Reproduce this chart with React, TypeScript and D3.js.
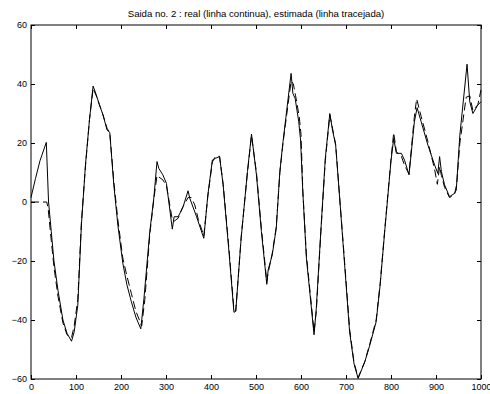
import React, { useEffect, useRef } from "react";
import * as d3 from "d3";

// amostras (eixo x) e valores
const realX = [0, 10, 20, 34, 39, 45, 51, 60, 71, 80, 90, 96, 104, 112, 121, 130, 138, 145, 152, 160, 169, 175, 184, 193, 204, 213, 223, 233, 244, 251, 264, 273, 280, 284, 293, 301, 314, 318, 327, 338, 349, 353, 368, 384, 393, 403, 410, 419, 427, 440, 451, 455, 467, 481, 490, 501, 512, 524, 527, 536, 545, 553, 560, 578, 582, 587, 595, 599, 604, 612, 629, 634, 644, 654, 664, 670, 677, 686, 697, 708, 718, 727, 742, 753, 767, 776, 786, 800, 806, 812, 823, 830, 840, 852, 858, 867, 882, 897, 904, 908, 912, 919, 930, 941, 945, 953, 969, 975, 982, 993, 1000];
const realY = [1.5, 8, 14, 20.2, 0, -10, -20, -30, -40, -44.5, -47.2, -44, -35, -7.8, 12.5, 28, 39.3, 36.3, 33, 29.5, 24.4, 23.6, 5.8, -7.8, -20.7, -28, -33.8, -39, -43, -32.7, -10, 1.4, 13.7, 11.4, 9.2, 6.3, -9.2, -5, -5, -1.6, 3.8, 1.2, -5, -12.3, 2.4, 14.2, 14.8, 15.4, 5.8, -17, -37.4, -37, -12.3, 10.3, 23, 9.2, -10, -27.9, -23, -18, -8.9, 10.3, 20.4, 43.6, 36.8, 35.1, 27.2, 21, 3.5, -19, -45, -36, -10, 14.8, 30, 24.4, 19.3, 1.2, -21.4, -44, -55, -59.8, -54.1, -48.5, -40.6, -28, -10, 14, 21.5, 16.5, 16.5, 14.2, 9.2, 27.2, 32, 27.2, 19.3, 12.5, 9.7, 15.4, 10.3, 5.8, 1.8, 2.9, 4, 22.7, 46.7, 34, 30, 32.9, 34];

const estX = [0, 35, 38, 45, 51, 60, 71, 80, 90, 96, 104, 112, 121, 130, 138, 145, 152, 160, 169, 175, 184, 193, 204, 213, 223, 233, 246, 253, 264, 273, 280, 284, 293, 301, 314, 318, 327, 338, 349, 356, 364, 372, 384, 393, 403, 410, 419, 427, 440, 451, 455, 467, 481, 490, 501, 512, 524, 527, 536, 545, 553, 560, 578, 583, 588, 596, 600, 604, 612, 629, 634, 644, 654, 664, 670, 677, 686, 697, 708, 718, 727, 742, 753, 767, 776, 786, 800, 806, 812, 823, 830, 840, 852, 857, 867, 882, 897, 903, 908, 912, 919, 930, 941, 946, 953, 967, 975, 982, 993, 1000];
const estY = [0, 0, -2, -13, -22, -32, -41, -45, -46, -42, -33, -7, 12, 28, 38.5, 36, 33, 29.5, 25, 23.5, 7, -6, -19, -25, -31, -37, -42, -33, -11, 1, 9, 8.5, 7.5, 5.5, -6, -6.5, -5.5, -1.5, 1.5, 1.5, -1, -6, -11.5, 2, 13.5, 15.5, 15.5, 6, -16, -36.5, -37, -12, 10, 22.5, 10, -9, -27, -24, -17.5, -8.5, 10, 20, 41, 40, 36, 29, 23, 4, -18, -44, -37, -10.5, 14, 29.5, 25, 19.5, 1.5, -20.5, -43, -54.5, -59.5, -54, -48, -40, -27.5, -9.5, 14.5, 23.5, 17, 15.5, 12.5, 9.5, 29, 35, 29, 20.5, 11, 6, 12, 9, 5, 1.5, 2.5, 6, 20, 35.5, 36, 31, 33, 38];

const xTicks = [0, 100, 200, 300, 400, 500, 600, 700, 800, 900, 1000];
const yTicks = [-60, -40, -20, 0, 20, 40, 60];

const TITLE = "Saida no. 2 : real (linha continua), estimada (linha tracejada)";

export default function App() {
  const ref = useRef<SVGSVGElement>(null);

  useEffect(() => {
    const width = 490;
    const height = 394;
    const margin = { top: 25, right: 9, bottom: 15, left: 31 };
    const font = "'Liberation Sans', Arial, Helvetica, sans-serif";

    const svg = d3.select(ref.current);
    svg.selectAll("*").remove();
    svg.attr("width", width).attr("height", height);

    const x = d3
      .scaleLinear()
      .domain([0, 1000])
      .range([margin.left, width - margin.right]);
    const y = d3
      .scaleLinear()
      .domain([-60, 60])
      .range([height - margin.bottom, margin.top]);

    const path = d3
      .line<[number, number]>()
      .x((d) => x(d[0]))
      .y((d) => y(d[1]));

    // real (linha continua)
    svg
      .append("path")
      .datum(realX.map((v, i) => [v, realY[i]] as [number, number]))
      .attr("d", path)
      .attr("fill", "none")
      .attr("stroke", "#000")
      .attr("stroke-width", 1);

    // estimada (linha tracejada)
    svg
      .append("path")
      .datum(estX.map((v, i) => [v, estY[i]] as [number, number]))
      .attr("d", path)
      .attr("fill", "none")
      .attr("stroke", "#000")
      .attr("stroke-width", 1)
      .attr("stroke-dasharray", "8,4");

    const styleAxis = (g) => {
      g.select(".domain").remove();
      g.selectAll(".tick line").attr("stroke", "#000");
      g.selectAll("text")
        .attr("fill", "#000")
        .style("font-family", font)
        .style("font-size", "9px");
    };

    svg
      .append("g")
      .attr("transform", `translate(0,${height - margin.bottom})`)
      .call(d3.axisBottom(x).tickValues(xTicks).tickSize(-4).tickPadding(5).tickFormat(d3.format("d")))
      .call(styleAxis);

    svg
      .append("g")
      .attr("transform", `translate(0,${margin.top})`)
      .call(d3.axisTop(x).tickValues(xTicks).tickSize(-4).tickFormat(() => ""))
      .call(styleAxis);

    svg
      .append("g")
      .attr("transform", `translate(${margin.left},0)`)
      .call(d3.axisLeft(y).tickValues(yTicks).tickSize(-4).tickPadding(4).tickFormat(d3.format("d")))
      .call(styleAxis);

    svg
      .append("g")
      .attr("transform", `translate(${width - margin.right},0)`)
      .call(d3.axisRight(y).tickValues(yTicks).tickSize(-4).tickFormat(() => ""))
      .call(styleAxis);

    svg
      .append("rect")
      .attr("x", margin.left)
      .attr("y", margin.top)
      .attr("width", width - margin.left - margin.right)
      .attr("height", height - margin.top - margin.bottom)
      .attr("fill", "none")
      .attr("stroke", "#000")
      .attr("stroke-width", 1);

    svg
      .append("text")
      .attr("x", (margin.left + width - margin.right) / 2)
      .attr("y", 17)
      .attr("text-anchor", "middle")
      .style("font-family", font)
      .style("font-size", "9.6px")
      .text(TITLE);
  }, []);

  return (
    <svg
      ref={ref}
      style={{ position: "absolute", left: 0, top: 0, background: "#fff" }}
    ></svg>
  );
}
